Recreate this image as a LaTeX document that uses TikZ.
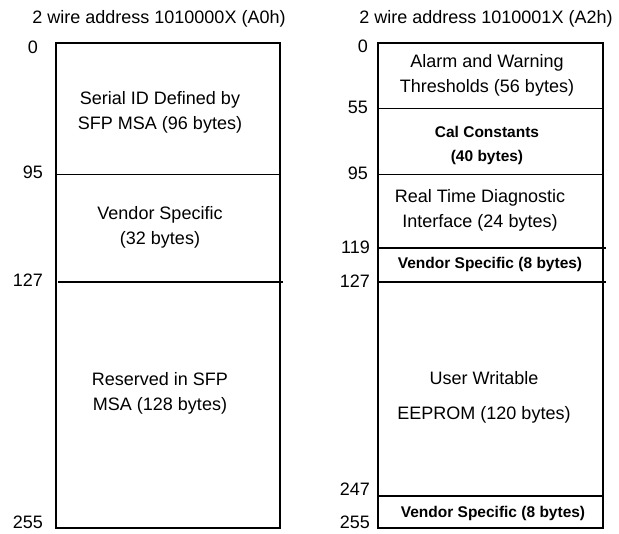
\documentclass[tikz,border=0pt]{standalone}
\usepackage{fontspec}
\setmainfont{Liberation Sans}
\begin{document}
\begin{tikzpicture}[x=1pt,y=-1pt,
  every node/.style={inner sep=0pt,align=center,font=\fontsize{18}{25}\selectfont},
  addr/.style={anchor=east},
  boldtext/.style={font=\fontsize{15.5}{24}\selectfont\bfseries},
  border/.style={line width=2pt},
  split/.style={line width=0.9pt},
  bigsplit/.style={line width=1.6pt}]
\useasboundingbox (0,0) rectangle (619,534);
% lower page A0h
\node (titleA) at (159,19) {2 wire address 1010000X (A0h)};
\coordinate (Atl) at (56,43);
\coordinate (Abr) at (280,528);
\draw[border] (Atl) rectangle (Abr);
\coordinate (A95l) at (56,174);
\coordinate (A95r) at (280,174);
\draw[split] (A95l) -- (A95r);
\coordinate (A127l) at (58,282);
\coordinate (A127r) at (283,282);
\draw[bigsplit] (A127l) -- (A127r);
\node[addr] (a0) at (38,47) {0};
\node[addr] (a95) at (43,172) {95};
\node[addr] (a127) at (43,280) {127};
\node[addr] (a255) at (43,522) {255};
\node (serial) at (160,112) {Serial ID Defined by\\SFP MSA (96 bytes)};
\node (vendA) at (160,227) {Vendor Specific\\(32 bytes)};
\node (reserved) at (160,393) {Reserved in SFP\\MSA (128 bytes)};
% upper page A2h
\node (titleB) at (486,19) {2 wire address 1010001X (A2h)};
\coordinate (Btl) at (378,43);
\coordinate (Bbr) at (603,528);
\draw[border] (Btl) rectangle (Bbr);
\coordinate (B55l) at (378,108);
\coordinate (B55r) at (603,108);
\draw[split] (B55l) -- (B55r);
\coordinate (B95l) at (378,174);
\coordinate (B95r) at (603,174);
\draw[split] (B95l) -- (B95r);
\coordinate (B119l) at (378,248);
\coordinate (B119r) at (606,248);
\draw[bigsplit] (B119l) -- (B119r);
\coordinate (B127l) at (378,282);
\coordinate (B127r) at (606,282);
\draw[bigsplit] (B127l) -- (B127r);
\coordinate (B247l) at (378,496);
\coordinate (B247r) at (603,496);
\draw[bigsplit] (B247l) -- (B247r);
\node[addr] (b0) at (368,46) {0};
\node[addr] (b55) at (368,107) {55};
\node[addr] (b95) at (368,173) {95};
\node[addr] (b119) at (370,247) {119};
\node[addr] (b127) at (370,281) {127};
\node[addr] (b247) at (370,489) {247};
\node[addr] (b255) at (370,522) {255};
\node (alarm) at (487,75) {Alarm and Warning\\Thresholds (56 bytes)};
\node[boldtext] (cal) at (487,145) {Cal Constants\\(40 bytes)};
\node (rtdi) at (480,210) {Real Time Diagnostic\\Interface (24 bytes)};
\node[boldtext] (vendB) at (490,264) {Vendor Specific (8 bytes)};
\node (user) at (484,397) {User Writable\\[10pt]EEPROM (120 bytes)};
\node[boldtext] (vendC) at (493,513) {Vendor Specific (8 bytes)};
\end{tikzpicture}
\end{document}
